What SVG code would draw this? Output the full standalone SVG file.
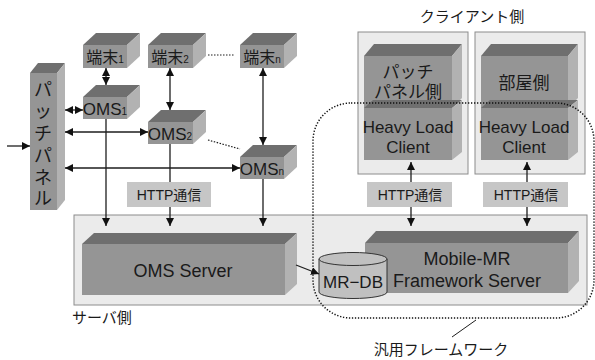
<svg xmlns="http://www.w3.org/2000/svg" width="595" height="360" viewBox="0 0 595 360">
<style>
.t{font-family:"Liberation Sans","Noto Sans CJK JP",sans-serif;fill:#1a1a1a}
.front{fill:#959595}
.top{fill:#6f6f6f}
.side{fill:#b2b2b2}
.area{fill:#ebebeb;stroke:#8c8c8c;stroke-width:1}
.lbl{fill:#c6c6c6}
.ln{stroke:#1e1e1e;stroke-width:1.3;fill:none}
</style>
<defs>
<marker id="ah" viewBox="0 0 10 10" refX="10" refY="5" markerWidth="8" markerHeight="8" markerUnits="userSpaceOnUse" orient="auto-start-reverse">
<path d="M0,0 L10,5 L0,10 z" fill="#111"/>
</marker>
</defs>

<!-- areas -->
<rect id="server-area" class="area" x="74" y="215" width="513" height="90"/>
<rect id="client-area-1" class="area" x="358" y="32" width="110" height="142"/>
<rect id="client-area-2" class="area" x="475" y="32" width="110" height="142"/>

<!-- patch panel -->
<g id="patch-panel">
<polygon class="top" points="30,73 38,63 65,63 57,73"/>
<polygon class="side" points="57,73 65,63 65,200 57,210"/>
<rect class="front" x="30" y="73" width="27" height="137"/>
<g class="t" font-size="18" text-anchor="middle">
<text x="43" y="96">パ</text>
<text x="43" y="118">ッ</text>
<text x="43" y="140">チ</text>
<text x="43" y="162">パ</text>
<text x="43" y="184">ネ</text>
<text x="43" y="205">ル</text>
</g>
</g>

<g id="term1">
<polygon class="top" points="83,45 96,33 140,33 127,45"/>
<polygon class="side" points="127,45 140,33 140,56 127,68"/>
<rect class="front" x="83" y="45" width="44" height="23"/>
<text class="t" x="105" y="63" font-size="16" text-anchor="middle">端末<tspan font-size="10">1</tspan></text>
</g>
<g id="term2">
<polygon class="top" points="148,45 161,33 206,33 193,45"/>
<polygon class="side" points="193,45 206,33 206,56 193,68"/>
<rect class="front" x="148" y="45" width="45" height="23"/>
<text class="t" x="170" y="63" font-size="16" text-anchor="middle">端末<tspan font-size="10">2</tspan></text>
</g>
<g id="termn">
<polygon class="top" points="240,45 253,33 297,33 284,45"/>
<polygon class="side" points="284,45 297,33 297,56 284,68"/>
<rect class="front" x="240" y="45" width="44" height="23"/>
<text class="t" x="262" y="63" font-size="16" text-anchor="middle">端末<tspan font-size="10">n</tspan></text>
</g>
<g id="oms1">
<polygon class="top" points="83,97 96,85 140,85 127,97"/>
<polygon class="side" points="127,97 140,85 140,107 127,119"/>
<rect class="front" x="83" y="97" width="44" height="22"/>
<text class="t" x="105" y="115" font-size="17" text-anchor="middle">OMS<tspan font-size="10">1</tspan></text>
</g>
<g id="oms2">
<polygon class="top" points="148,122 161,110 206,110 193,122"/>
<polygon class="side" points="193,122 206,110 206,132 193,144"/>
<rect class="front" x="148" y="122" width="45" height="22"/>
<text class="t" x="170" y="140" font-size="17" text-anchor="middle">OMS<tspan font-size="10">2</tspan></text>
</g>
<g id="omsn">
<polygon class="top" points="240,157 253,145 297,145 284,157"/>
<polygon class="side" points="284,157 297,145 297,167 284,179"/>
<rect class="front" x="240" y="157" width="44" height="22"/>
<text class="t" x="262" y="175" font-size="17" text-anchor="middle">OMS<tspan font-size="10">n</tspan></text>
</g>

<g id="oms-server">
<polygon class="top" points="82,244 94,233 297,233 285,244"/>
<polygon class="side" points="285,244 297,233 297,284 285,295"/>
<rect class="front" x="82" y="244" width="203" height="51"/>
<text class="t" x="183" y="277" font-size="18" text-anchor="middle">OMS Server</text>
</g>

<g id="framework-server">
<polygon class="top" points="365,243 376,231 579,231 568,243"/>
<polygon class="side" points="568,243 579,231 579,281 568,293"/>
<rect class="front" x="365" y="243" width="203" height="50"/>
<text class="t" x="467" y="265" font-size="18" text-anchor="middle">Mobile-MR</text>
<text class="t" x="467" y="287" font-size="18" text-anchor="middle">Framework Server</text>
</g>

<g id="mr-db">
<path d="M319,259 L319,292 A34,6.5 0 0 0 387,292 L387,259" fill="#c0c0c0" stroke="#333" stroke-width="1"/>
<ellipse cx="353" cy="259" rx="34" ry="6.5" fill="#c0c0c0" stroke="#333" stroke-width="1"/>
<text class="t" x="353" y="288" font-size="17" text-anchor="middle">MR−DB</text>
</g>

<g id="client-patch">
<polygon class="top" points="364,56 374,44 462,44 452,56"/>
<polygon class="side" points="452,56 462,44 462,98 452,108"/>
<rect class="front" x="364" y="56" width="88" height="52"/>
<text class="t" x="408" y="78" font-size="17" text-anchor="middle">パッチ</text>
<text class="t" x="408" y="98" font-size="17" text-anchor="middle">パネル側</text>
</g>
<g id="client-patch-hlc">
<polygon class="top" points="364,108 373,100 462,100 452,108"/>
<polygon class="side" points="452,108 462,100 462,152 452,160"/>
<rect class="front" x="364" y="108" width="88" height="52"/>
<text class="t" x="408" y="133" font-size="17" text-anchor="middle">Heavy Load</text>
<text class="t" x="408" y="153" font-size="17" text-anchor="middle">Client</text>
</g>
<g id="client-room">
<polygon class="top" points="481,56 491,44 578,44 568,56"/>
<polygon class="side" points="568,56 578,44 578,98 568,108"/>
<rect class="front" x="481" y="56" width="87" height="52"/>
<text class="t" x="524" y="89" font-size="17" text-anchor="middle">部屋側</text>
</g>
<g id="client-room-hlc">
<polygon class="top" points="481,108 490,100 578,100 568,108"/>
<polygon class="side" points="568,108 578,100 578,152 568,160"/>
<rect class="front" x="481" y="108" width="87" height="52"/>
<text class="t" x="524" y="133" font-size="17" text-anchor="middle">Heavy Load</text>
<text class="t" x="524" y="153" font-size="17" text-anchor="middle">Client</text>
</g>

<!-- connectors -->
<g id="connectors">
<line class="ln" x1="7" y1="146" x2="30" y2="146" marker-end="url(#ah)"/>
<line class="ln" x1="65" y1="110" x2="83" y2="110" marker-start="url(#ah)" marker-end="url(#ah)"/>
<line class="ln" x1="65" y1="132" x2="148" y2="132" marker-start="url(#ah)" marker-end="url(#ah)"/>
<line class="ln" x1="65" y1="168" x2="240" y2="168" marker-start="url(#ah)" marker-end="url(#ah)"/>
<line class="ln" x1="106" y1="68" x2="106" y2="85" marker-start="url(#ah)" marker-end="url(#ah)"/>
<line class="ln" x1="170" y1="68" x2="170" y2="110" marker-start="url(#ah)" marker-end="url(#ah)"/>
<line class="ln" x1="263" y1="68" x2="263" y2="145" marker-start="url(#ah)" marker-end="url(#ah)"/>
<line class="ln" x1="106" y1="119" x2="106" y2="226" marker-end="url(#ah)"/>
<line class="ln" x1="170" y1="144" x2="170" y2="226" marker-end="url(#ah)"/>
<line class="ln" x1="263" y1="179" x2="263" y2="226" marker-end="url(#ah)"/>
<line class="ln" x1="411" y1="162" x2="411" y2="226" marker-start="url(#ah)" marker-end="url(#ah)"/>
<line class="ln" x1="527" y1="162" x2="527" y2="226" marker-start="url(#ah)" marker-end="url(#ah)"/>
<line class="ln" x1="296" y1="265" x2="319" y2="274" marker-end="url(#ah)"/>
<line x1="208" y1="55" x2="234" y2="55" stroke="#1e1e1e" stroke-width="1.2" stroke-dasharray="1.5 1.5"/>
<line x1="208" y1="140" x2="240" y2="149" stroke="#1e1e1e" stroke-width="1.2" stroke-dasharray="1.5 1.5"/>
<line x1="452" y1="337" x2="476" y2="320" stroke="#1e1e1e" stroke-width="1"/>
</g>

<!-- HTTP labels -->
<g id="http-1"><rect class="lbl" x="127" y="182" width="84" height="25"/><text class="t" x="169" y="200" font-size="14" text-anchor="middle">HTTP通信</text></g>
<g id="http-2"><rect class="lbl" x="367" y="182" width="85" height="25"/><text class="t" x="410" y="200" font-size="14" text-anchor="middle">HTTP通信</text></g>
<g id="http-3"><rect class="lbl" x="483" y="182" width="85" height="25"/><text class="t" x="526" y="200" font-size="14" text-anchor="middle">HTTP通信</text></g>

<!-- framework dotted boundary -->
<g id="framework-boundary">
<rect x="313" y="103" width="281" height="215" rx="38" ry="38" fill="none" stroke="#111" stroke-width="1.5" stroke-dasharray="1.3 1.7"/>
</g>

<!-- labels -->
<text class="t" x="472" y="22" font-size="15" text-anchor="middle">クライアント側</text>
<text class="t" x="72" y="323" font-size="15">サーバ側</text>
<text class="t" x="441" y="355" font-size="15" text-anchor="middle">汎用フレームワーク</text>
</svg>
